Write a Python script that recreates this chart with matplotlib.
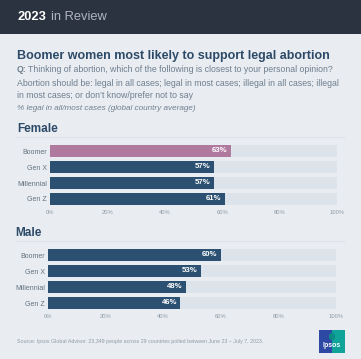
import matplotlib
matplotlib.use("Agg")
import matplotlib.pyplot as plt
from matplotlib.patches import Rectangle, FancyBboxPatch

plt.rcParams['font.family'] = ['Liberation Sans', 'DejaVu Sans']

categories = ["Boomer", "Gen X", "Millennial", "Gen Z"]
female_values = [63, 57, 57, 61]
male_values = [60, 53, 48, 46]
tick_values = [0, 20, 40, 60, 80, 100]
tick_labels = ["0%", "20%", "40%", "60%", "80%", "100%"]

W, H = 361, 359
BG = "#e9edf1"
HEADER = "#2b3340"
NAVY = "#2c5072"
PINK = "#b07a9f"
TRACK = "#dde3ea"
TITLE_C = "#2d4a68"
TEXT_C = "#6f7e8f"

fig = plt.figure(figsize=(W / 100, H / 100), dpi=100)
fig.patch.set_facecolor(BG)

def fx(x):
    return x / W

def fy(y):
    return 1 - y / H

# header band
fig.patches.append(Rectangle((0, fy(34)), 1, 34 / H, transform=fig.transFigure,
                             facecolor=HEADER, edgecolor="none", zorder=0))
fig.text(fx(17), fy(17), "2023", color="white", fontsize=9.3, fontweight="bold", va="center", ha="left")
fig.text(fx(51), fy(17), "in Review", color="#aeb5bf", fontsize=9.3, va="center", ha="left")

# title and question
fig.text(fx(17), fy(56), "Boomer women most likely to support legal abortion",
         color=TITLE_C, fontsize=9, fontweight="bold", va="center", ha="left")
fig.text(fx(17), fy(69.5), "Q:", color=TEXT_C, fontsize=6.3, fontweight="bold", va="center", ha="left")
fig.text(fx(28.5), fy(69.5), "Thinking of abortion, which of the following is closest to your personal opinion?",
         color=TEXT_C, fontsize=6.3, va="center", ha="left")
fig.text(fx(17), fy(83), "Abortion should be: legal in all cases; legal in most cases; illegal in all cases; illegal",
         color=TEXT_C, fontsize=6.3, va="center", ha="left")
fig.text(fx(17), fy(96), "in most cases; or don\u2019t know/prefer not to say",
         color=TEXT_C, fontsize=6.3, va="center", ha="left")
fig.text(fx(17), fy(108), "% legal in all/most cases (global country average)",
         color=TEXT_C, fontsize=5.9, style="italic", va="center", ha="left")

def section(name, values, colors, head_y, line_y, ax_top, x0, x1):
    fig.text(fx(x0 - 33), fy(head_y), name, color=TITLE_C, fontsize=8.5, fontweight="bold",
             va="center", ha="left")
    fig.add_artist(plt.Line2D([fx(17), fx(344)], [fy(line_y), fy(line_y)], color="#dde2e8", lw=0.8))
    ax = fig.add_axes([fx(x0), fy(ax_top + 64), fx(x1 - x0), 64 / H])
    ax.set_facecolor("none")
    ypos = list(range(len(categories)))
    ax.barh(ypos, [100] * len(categories), height=0.7, color=TRACK, zorder=1)
    ax.barh(ypos, values, height=0.7, color=colors, zorder=2)
    for yv, v in zip(ypos, values):
        ax.text(v - 1.2, yv, f"{v}%", color="white", fontsize=5.6, fontweight="bold",
                va="center", ha="right", zorder=3)
    ax.set_xlim(0, 100)
    ax.set_ylim(len(categories) - 0.5, -0.5)
    ax.set_yticks(ypos)
    ax.set_yticklabels(categories, fontsize=5, color="#62717f")
    ax.set_xticks(tick_values)
    ax.set_xticklabels(tick_labels, fontsize=4.2, color="#8d99a6")
    ax.tick_params(axis="both", length=0, pad=2)
    ax.tick_params(axis="x", pad=2.5)
    for s in ax.spines.values():
        s.set_visible(False)
    return ax

section("Female", female_values, [PINK, NAVY, NAVY, NAVY], 129, 137, 143, 50, 337)
section("Male", male_values, [NAVY] * 4, 233, 241, 247, 48, 336)

fig.text(fx(17), fy(341), "Source: Ipsos Global Advisor. 23,349 people across 29 countries polled between June 23 \u2013 July 7, 2023.",
         color="#8d99a6", fontsize=3.8, va="center", ha="left")

# Ipsos logo
fig.patches.append(Rectangle((fx(319), fy(353)), fx(13), 23 / H, transform=fig.transFigure,
                             facecolor="#2d49a4", edgecolor="none"))
fig.patches.append(Rectangle((fx(332), fy(353)), fx(13), 23 / H, transform=fig.transFigure,
                             facecolor="#0fa39a", edgecolor="none"))
fig.text(fx(332), fy(345.5), "Ipsos", color="white", fontsize=5, fontweight="bold", va="center", ha="center")
fig.patches.append(FancyBboxPatch((fx(329), fy(340)), fx(6), 7 / H, boxstyle="round,pad=0,rounding_size=0.008",
                                  transform=fig.transFigure, facecolor="#0b8a86", edgecolor="none"))

fig.savefig("out.png", dpi=100, facecolor=BG)
